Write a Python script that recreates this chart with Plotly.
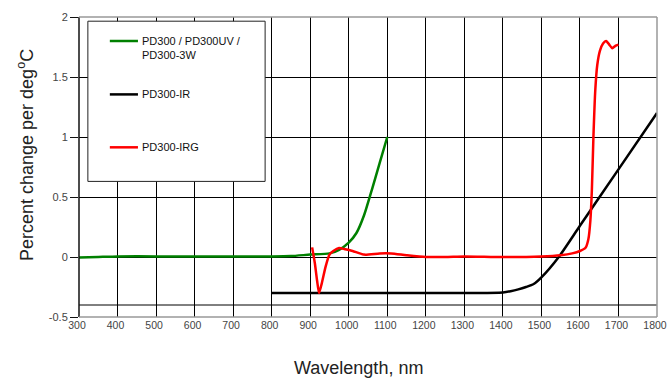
import plotly.graph_objects as go

# Temperature coefficient curves (percent change per degC vs wavelength)
green_name = "PD300 / PD300UV /<br>PD300-3W"
green_wl = [300, 350, 400, 500, 600, 700, 800, 850, 900, 950, 975, 1000, 1020, 1040, 1060, 1080, 1100]
green_val = [-0.005, 0.0, 0.005, 0.005, 0.005, 0.005, 0.005, 0.008, 0.02, 0.03, 0.06, 0.12, 0.2, 0.35, 0.56, 0.78, 1.0]

black_name = "PD300-IR"
black_wl = [800, 900, 1000, 1100, 1200, 1300, 1400, 1420, 1440, 1460, 1480, 1500, 1545, 1600, 1700, 1800]
black_val = [-0.3, -0.3, -0.3, -0.3, -0.3, -0.3, -0.295, -0.285, -0.27, -0.25, -0.225, -0.17, 0.0, 0.26, 0.73, 1.2]

red_name = "PD300-IRG"
red_wl = [905, 912, 918, 923, 930, 940, 950, 960, 975, 990, 1010, 1040, 1080, 1110, 1150, 1200, 1250, 1300,
          1400, 1500, 1550, 1580, 1600, 1615, 1622, 1627, 1631, 1635, 1640, 1645, 1652, 1660, 1668, 1676,
          1684, 1692, 1700]
red_val = [0.08, -0.05, -0.2, -0.3, -0.22, -0.08, 0.02, 0.05, 0.075, 0.065, 0.05, 0.02, 0.03, 0.03, 0.015, 0.0,
           0.0, 0.005, 0.0, 0.005, 0.015, 0.03, 0.05, 0.08, 0.15, 0.3, 0.56, 1.0, 1.4, 1.6, 1.72, 1.78, 1.8,
           1.77, 1.74, 1.76, 1.77]

x_ticks = list(range(300, 1900, 100))
y_ticks = [-0.5, 0, 0.5, 1, 1.5, 2]
y_tick_text = ["-0.5", "0", "0.5", "1", "1.5", "2"]
extra_hline = -0.4

x_title = "Wavelength, nm"
y_title = "Percent change per deg<sup>o</sup>C"

series = [
    (green_name, green_wl, green_val, "#008000"),
    (black_name, black_wl, black_val, "#000000"),
    (red_name, red_wl, red_val, "#ff0000"),
]

font_family = "Liberation Sans, Arial, sans-serif"
grid_color = "black"

fig = go.Figure()
for name, wl, val, color in series:
    fig.add_trace(go.Scatter(x=wl, y=val, mode="lines", name=name.replace("<br>", " "),
                             line=dict(color=color, width=2.5, shape="spline", smoothing=0.6),
                             showlegend=False))

fig.update_layout(
    width=667, height=378,
    margin=dict(l=79, r=10, t=17, b=61),
    plot_bgcolor="white",
    font=dict(family=font_family, color="#444"),
    xaxis=dict(range=[300, 1800], tickvals=x_ticks, automargin=False,
               showgrid=True, gridcolor=grid_color, gridwidth=1,
               zerolinecolor=grid_color, zerolinewidth=1,
               tickfont=dict(size=10.5, color="#444"), ticklabeloverflow="allow",
               ticklabelshift=-2),
    yaxis=dict(range=[-0.5, 2], tickvals=y_ticks, ticktext=y_tick_text, automargin=False,
               showgrid=True, gridcolor=grid_color, gridwidth=1,
               zerolinecolor=grid_color, zerolinewidth=1,
               ticks="outside", ticklen=8, tickcolor="#111",
               tickfont=dict(size=11, color="#444")),
)

# Extra line near the bottom of the grid
fig.add_hline(y=extra_hline, line=dict(color=grid_color, width=1))

# Frame: black on the left, grey elsewhere
fig.add_shape(type="line", xref="paper", yref="paper", x0=0, x1=0, y0=0, y1=1,
              line=dict(color="#111", width=1.5))
fig.add_shape(type="line", xref="paper", yref="paper", x0=0, x1=1, y0=0, y1=0,
              line=dict(color="#999", width=1.5))
fig.add_shape(type="line", xref="paper", yref="paper", x0=1, x1=1, y0=0, y1=1,
              line=dict(color="#999", width=1.5))
fig.add_shape(type="line", xref="paper", yref="paper", x0=0, x1=1, y0=1, y1=1,
              line=dict(color="#999", width=1.5))

# Axis titles
fig.add_annotation(text=x_title, xref="paper", yref="paper", x=0.483, y=-0.17,
                   showarrow=False, xanchor="center", yanchor="middle",
                   font=dict(family=font_family, size=18, color="#222"))
fig.add_annotation(text=y_title, xref="paper", yref="paper", x=-0.0934, y=0.54,
                   showarrow=False, xanchor="center", yanchor="middle", textangle=-90,
                   font=dict(family=font_family, size=18, color="#222"))

# Boxed key in the upper-left corner
fig.add_shape(type="rect", xref="x", yref="y", x0=323, x1=783, y0=0.63, y1=1.965,
              line=dict(color="#222", width=1), fillcolor="white", layer="above")
key_y = [1.80, 1.355, 0.914]
text_y = [1.745, 1.355, 0.914]
for (name, wl, val, color), ly, ty in zip(series, key_y, text_y):
    fig.add_shape(type="line", xref="x", yref="y", x0=380, x1=453, y0=ly, y1=ly,
                  line=dict(color=color, width=2.5), layer="above")
    fig.add_annotation(x=458, y=ty, xref="x", yref="y", text=name, showarrow=False,
                       xanchor="left", yanchor="middle", align="left",
                       font=dict(family=font_family, size=11, color="#111"))

fig.write_html("out.html")
